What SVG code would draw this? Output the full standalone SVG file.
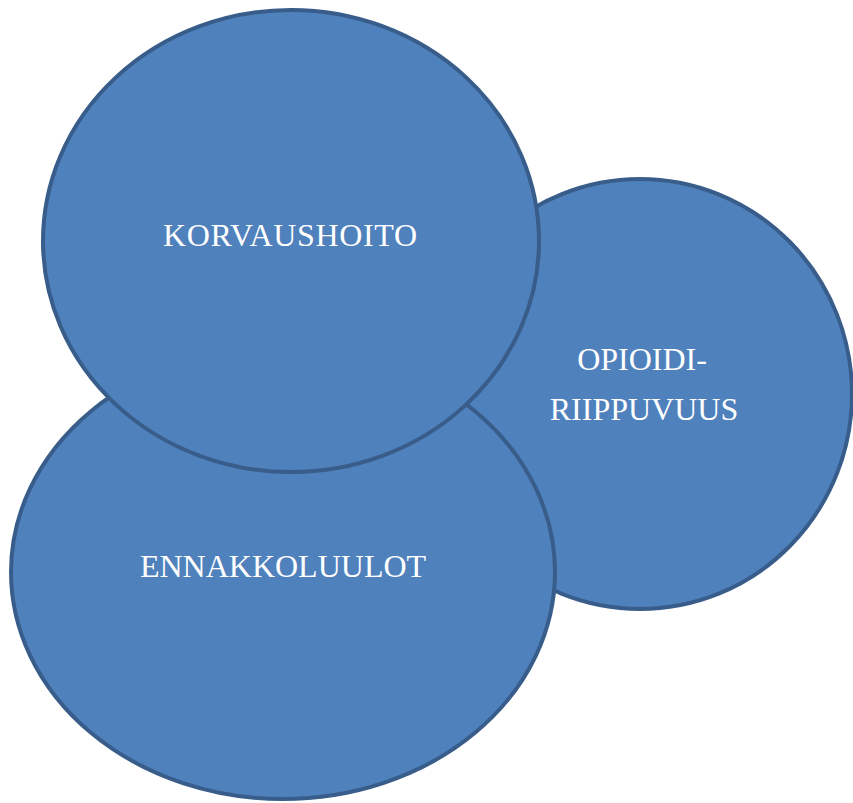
<svg xmlns="http://www.w3.org/2000/svg" width="853" height="803" viewBox="0 0 853 803">
<style>
.c{fill:#4F81BD;stroke:#385D8A;stroke-width:4}
.t{fill:#FFFFFF;font-size:32px;text-anchor:middle}
</style>
<rect width="853" height="803" fill="#FFFFFF"/>
<g id="opioidiriippuvuus">
<ellipse class="c" cx="640" cy="394" rx="212" ry="215"/>
<text class="t" font-family="Liberation Serif, Times New Roman, serif" x="642" y="370">OPIOIDI-</text>
<text class="t" font-family="Liberation Serif, Times New Roman, serif" x="644" y="420">RIIPPUVUUS</text>
</g>
<g id="ennakkoluulot">
<ellipse class="c" cx="283" cy="572" rx="272" ry="227"/>
<text class="t" font-family="Liberation Serif, Times New Roman, serif" x="283" y="577">ENNAKKOLUULOT</text>
</g>
<g id="korvaushoito">
<ellipse class="c" cx="291" cy="241" rx="248" ry="231"/>
<text class="t" font-family="Liberation Serif, Times New Roman, serif" x="290" y="246" textLength="254" lengthAdjust="spacing">KORVAUSHOITO</text>
</g>
<g id="connectors"></g>
</svg>
